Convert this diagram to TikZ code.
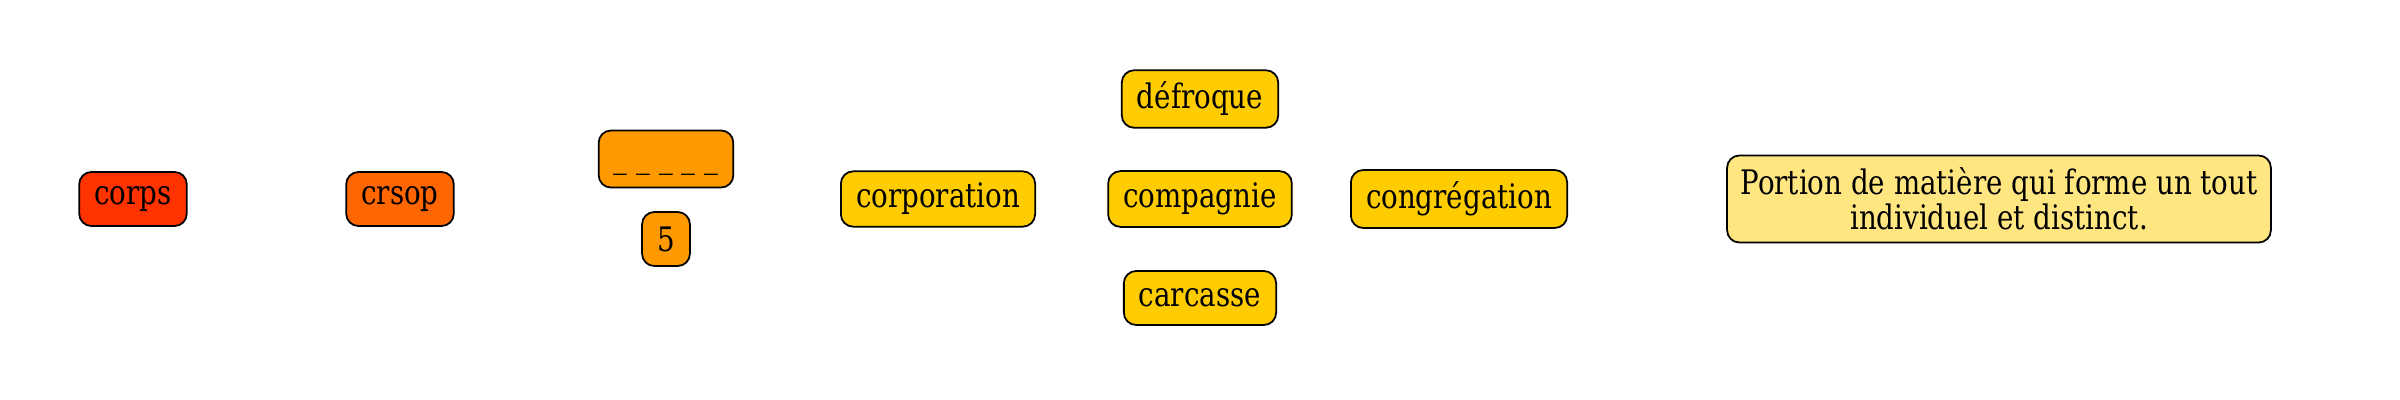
\documentclass[tikz,border=0pt]{standalone}
\usepackage{fontspec}
\setmainfont[FakeStretch=0.82]{DejaVu Serif}
\definecolor{wordred}{HTML}{FF3300}
\definecolor{wordorange}{HTML}{FF6600}
\definecolor{wordamber}{HTML}{FF9900}
\definecolor{wordyellow}{HTML}{FFCC00}
\definecolor{wordpale}{HTML}{FFE680}
\begin{document}
\begin{tikzpicture}[x=0.01cm, y=-0.01cm,
    box/.style={draw, rounded corners=3.5pt, line width=0.5pt,
      font=\fontsize{9.6}{10}\selectfont, inner xsep=4.3pt,
      minimum height=0.54cm},
    defbox/.style={box, align=center, inner xsep=3.8pt, minimum height=0.87cm}]
      \useasboundingbox (0,0) rectangle (2400,400);
      \path
        (133,199) node[box, fill=wordred] (corps){corps}
        (400,199) node[box, fill=wordorange] (crsop){crsop}
        (666,159) node[box, fill=wordamber, minimum width=1.32cm] (blank){\vphantom{dp}\_~\_~\_~\_~\_}
        (666,239) node[box, fill=wordamber] (five){5}
        (938,199) node[box, fill=wordyellow] (corporation){corporation}
        (1200,99) node[box, fill=wordyellow] (defroque){défroque}
        (1200,199) node[box, fill=wordyellow] (compagnie){compagnie}
        (1200,298) node[box, fill=wordyellow] (carcasse){carcasse}
        (1459,199) node[box, fill=wordyellow] (congregation){congrégation}
        (1999,199) node[defbox, fill=wordpale] (definition)
          {Portion de matière qui forme un tout\\individuel et distinct.};
    \end{tikzpicture}
\end{document}
